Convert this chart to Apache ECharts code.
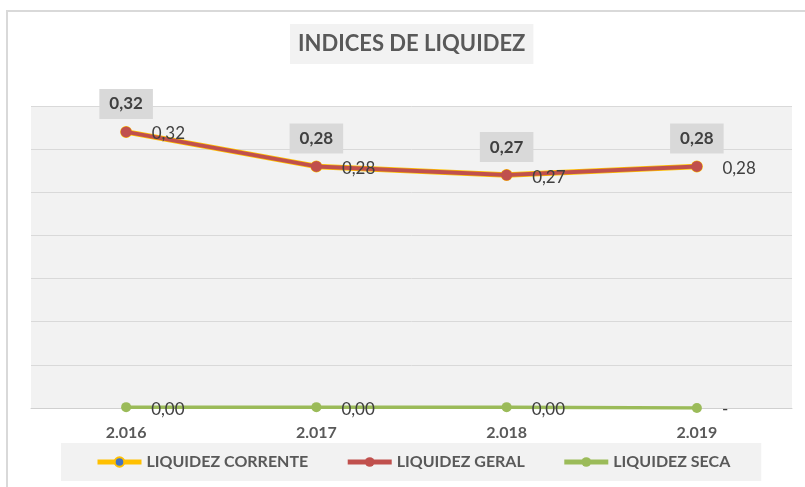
<!DOCTYPE html>
<html>
<head>
<meta charset="utf-8">
<script src="https://cdn.jsdelivr.net/npm/echarts@6/dist/echarts.min.js"></script>
<style>
  html, body { margin: 0; padding: 0; background: #ffffff; }
  #chart { width: 805px; height: 487px; }
</style>
</head>
<body>
<div id="chart"></div>
<script>
// Anos e índices de liquidez
const years = ['2.016', '2.017', '2.018', '2.019'];
const liquidezCorrente = [0.32, 0.28, 0.27, 0.28];
const liquidezGeral = [0.32, 0.28, 0.27, 0.28];
const liquidezSeca = [0.001, 0.001, 0.001, 0];
const seriesNames = ['LIQUIDEZ CORRENTE', 'LIQUIDEZ GERAL', 'LIQUIDEZ SECA'];

const FONT = 'Lato';

// formato contábil: vírgula decimal, zero exato vira "-"
function fmt(v) {
  if (v === 0) return '-';
  return v.toFixed(2).replace('.', ',');
}

const chart = echarts.init(document.getElementById('chart'), null, { renderer: 'canvas' });

const rightLabel = {
  show: true,
  position: 'right',
  distance: 20,
  offset: [0, 2],
  fontFamily: FONT,
  fontSize: 17,
  color: '#404040',
  formatter: p => fmt(p.value)
};

chart.setOption({
  backgroundColor: '#ffffff',
  animation: false,
  graphic: [{
    type: 'rect',
    shape: { x: 7, y: 11, width: 900, height: 600 },
    style: { fill: 'none', stroke: '#d9d9d9', lineWidth: 2 },
    silent: true
  }],
  title: {
    text: 'INDICES DE LIQUIDEZ',
    left: 290,
    top: 24,
    padding: [8, 8],
    backgroundColor: '#f2f2f2',
    textStyle: {
      fontFamily: FONT,
      fontWeight: 'bold',
      fontSize: 22,
      lineHeight: 24,
      color: '#595959'
    }
  },
  grid: {
    left: 31,
    right: 13,
    top: 106,
    bottom: 79,
    show: true,
    backgroundColor: '#f2f2f2',
    borderWidth: 0
  },
  legend: {
    left: 61,
    top: 443,
    padding: [9, 31, 9, 34],
    itemGap: 37,
    itemWidth: 44,
    itemHeight: 12,
    backgroundColor: '#f2f2f2',
    lineStyle: { width: 5 },
    textStyle: {
      fontFamily: FONT,
      fontWeight: 'bold',
      fontSize: 16,
      lineHeight: 20,
      color: '#595959'
    },
    data: seriesNames
  },
  xAxis: {
    type: 'category',
    data: years,
    boundaryGap: true,
    axisLine: { lineStyle: { color: '#d0d0d0', width: 1 } },
    axisTick: { show: false },
    axisLabel: {
      margin: 17,
      fontFamily: FONT,
      fontWeight: 'bold',
      fontSize: 16,
      color: '#595959'
    }
  },
  yAxis: {
    type: 'value',
    min: 0,
    max: 0.35,
    interval: 0.05,
    axisLine: { show: false },
    axisTick: { show: false },
    axisLabel: { show: false },
    splitLine: { lineStyle: { color: '#d9d9d9', width: 1 } }
  },
  series: [
    {
      name: seriesNames[0],
      type: 'line',
      data: liquidezCorrente,
      z: 2,
      symbol: 'circle',
      symbolSize: 10,
      lineStyle: { color: '#FFC000', width: 5.5 },
      itemStyle: { color: '#4472C4', borderColor: '#FFC000', borderWidth: 2 },
      label: {
        show: true,
        position: 'top',
        distance: 7,
        fontFamily: FONT,
        fontWeight: 'bold',
        fontSize: 17,
        lineHeight: 18,
        color: '#404040',
        backgroundColor: '#d9d9d9',
        padding: [6, 10],
        formatter: p => fmt(p.value)
      }
    },
    {
      name: seriesNames[1],
      type: 'line',
      data: liquidezGeral,
      z: 3,
      symbol: 'circle',
      symbolSize: 11,
      lineStyle: { color: '#C0504D', width: 4 },
      itemStyle: { color: '#C0504D' },
      label: rightLabel
    },
    {
      name: seriesNames[2],
      type: 'line',
      data: liquidezSeca,
      z: 3,
      symbol: 'circle',
      symbolSize: 10,
      lineStyle: { color: '#9BBB59', width: 3.5 },
      itemStyle: { color: '#9BBB59' },
      label: rightLabel
    }
  ]
});
</script>
</body>
</html>
